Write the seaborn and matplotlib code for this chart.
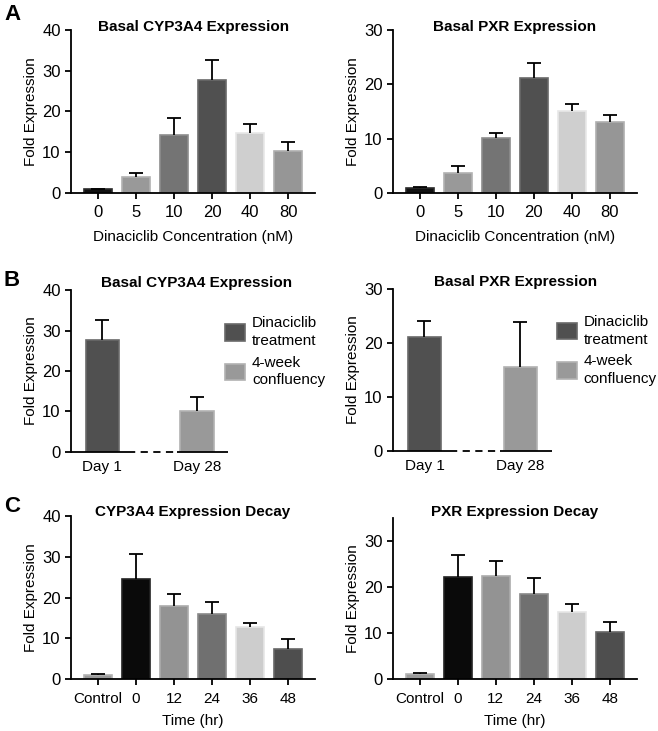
"""
Fold expression bar panels (A, B, C)
"""
import matplotlib
matplotlib.use("Agg")
import matplotlib.pyplot as plt
import matplotlib.patches as mpatches
import seaborn as sns
import pandas as pd

# Panel A - dinaciclib dose response
conc_labels = ["0", "5", "10", "20", "40", "80"]
cyp_dose = [1.0, 4.0, 14.3, 27.7, 14.8, 10.4]
cyp_dose_top = [1.1, 4.9, 18.3, 32.6, 17.0, 12.6]
pxr_dose = [1.0, 3.7, 10.1, 21.1, 15.1, 13.0]
pxr_dose_top = [1.1, 4.9, 11.1, 24.0, 16.4, 14.4]
dose_colors = ["#111111", "#999999", "#747474", "#505050", "#cfcfcf", "#969696"]

# Panel B - day 1 vs day 28
day_labels = ["Day 1", "Day 28"]
cyp_day = [27.7, 10.0]
cyp_day_top = [32.6, 13.5]
pxr_day = [21.1, 15.6]
pxr_day_top = [24.0, 23.9]
day_colors = ["#505050", "#999999"]
legend_labels = ["Dinaciclib\ntreatment", "4-week\nconfluency"]

# Panel C - decay over time
time_labels = ["Control", "0", "12", "24", "36", "48"]
cyp_decay = [1.1, 24.5, 18.0, 16.0, 12.7, 7.4]
cyp_decay_top = [1.3, 30.7, 20.9, 19.0, 13.8, 9.9]
pxr_decay = [1.1, 22.3, 22.5, 18.5, 14.5, 10.2]
pxr_decay_top = [1.4, 26.9, 25.6, 22.0, 16.4, 12.4]
decay_colors = ["#9a9a9a", "#0a0a0a", "#939393", "#707070", "#cdcdcd", "#4e4e4e"]

sns.set_style("ticks")
plt.rcParams["font.family"] = ["Liberation Sans", "DejaVu Sans"]
plt.rcParams["font.size"] = 11
plt.rcParams["text.color"] = "black"
plt.rcParams["axes.labelcolor"] = "black"
plt.rcParams["xtick.color"] = "black"
plt.rcParams["ytick.color"] = "black"
plt.rcParams["axes.edgecolor"] = "black"
plt.rcParams["axes.linewidth"] = 1.3
plt.rcParams["xtick.major.width"] = 1.3
plt.rcParams["ytick.major.width"] = 1.3
plt.rcParams["xtick.major.size"] = 4
plt.rcParams["ytick.major.size"] = 4

fig = plt.figure(figsize=(6.58, 7.31), dpi=100)


def edge_of(c):
    # slightly lighter outline like the original figure
    v = int(c[1:3], 16)
    v = min(255, v + 25)
    return "#%02x%02x%02x" % (v, v, v)


def bar_panel(rect, labels, vals, tops, colors, ymax, yticks, title,
              xlabel=None, width=0.72, xpad=0.71, xticks_marks=True,
              title_x=0.5, xtick_size=12, title_pad=0, xlabelpad=7):
    ax = fig.add_axes(rect)
    df = pd.DataFrame({"cat": labels, "val": vals})
    sns.barplot(data=df, x="cat", y="val", hue="cat", palette=colors,
                legend=False, width=width, ax=ax, saturation=1,
                linewidth=1.2)
    for p, c in zip(ax.patches, colors):
        p.set_edgecolor(edge_of(c))
    xs = list(range(len(vals)))
    up = [t - v for t, v in zip(tops, vals)]
    _, caps, _ = ax.errorbar(xs, vals, yerr=[[0] * len(vals), up], fmt="none",
                             ecolor="black", elinewidth=1.3, capsize=5,
                             capthick=1.3)
    caps[0].set_visible(False)  # upper error only
    ax.set_ylim(0, ymax)
    ax.set_yticks(yticks)
    ax.set_xlim(-xpad, len(vals) - 1 + xpad)
    ax.set_ylabel("Fold Expression", fontsize=11, labelpad=3)
    ax.set_xlabel(xlabel if xlabel else "", fontsize=11, labelpad=xlabelpad)
    ax.set_title(title, fontsize=11, fontweight="bold", pad=title_pad,
                 x=title_x, y=1.0)
    ax.tick_params(axis="y", labelsize=12)
    ax.tick_params(axis="x", labelsize=xtick_size, pad=5)
    if not xticks_marks:
        ax.tick_params(axis="x", length=0, pad=6)
    sns.despine(ax=ax)
    return ax


# Row A
bar_panel([0.108, 0.736, 0.371, 0.223], conc_labels, cyp_dose, cyp_dose_top,
          dose_colors, 40, [0, 10, 20, 30, 40], "Basal CYP3A4 Expression",
          "Dinaciclib Concentration (nM)", title_pad=-1)
bar_panel([0.597, 0.736, 0.371, 0.223], conc_labels, pxr_dose, pxr_dose_top,
          dose_colors, 30, [0, 10, 20, 30], "Basal PXR Expression",
          "Dinaciclib Concentration (nM)", title_pad=-1)

# Row B
for rect, vals, tops, ymax, yt, title, tx, lx in [
        ([0.108, 0.382, 0.239, 0.221], cyp_day, cyp_day_top, 40,
         [0, 10, 20, 30, 40], "Basal CYP3A4 Expression", 0.80, 0.98),
        ([0.597, 0.383, 0.242, 0.222], pxr_day, pxr_day_top, 30,
         [0, 10, 20, 30], "Basal PXR Expression", 0.77, 1.03)]:
    ax = bar_panel(rect, day_labels, vals, tops, day_colors, ymax, yt, title,
                   width=0.35, xpad=0.33, xticks_marks=False, title_x=tx,
                   xtick_size=11, title_pad=2)
    # broken baseline: solid - dashed - solid
    ax.spines["bottom"].set_visible(False)
    tr = ax.get_xaxis_transform()
    ax.plot([-0.33, 0.27], [0, 0], color="black", lw=1.3, transform=tr,
            clip_on=False, solid_capstyle="butt")
    ax.plot([0.27, 0.79], [0, 0], color="black", lw=1.3, ls=(0, (4, 3)),
            transform=tr, clip_on=False)
    ax.plot([0.79, 1.33], [0, 0], color="black", lw=1.3, transform=tr,
            clip_on=False, solid_capstyle="butt")
    handles = [mpatches.Patch(facecolor=c, edgecolor=edge_of(c), lw=1.2, label=l)
               for c, l in zip(day_colors, legend_labels)]
    leg = ax.legend(handles=handles, loc="upper left", bbox_to_anchor=(lx, 0.84),
                    frameon=False, fontsize=11, handlelength=1.3,
                    handleheight=1.3, handletextpad=0.45, labelspacing=0.5,
                    borderpad=0, borderaxespad=0)
    for t in leg.get_texts():
        t.set_linespacing(1.35)

# Row C
bar_panel([0.108, 0.071, 0.371, 0.223], time_labels, cyp_decay, cyp_decay_top,
          decay_colors, 40, [0, 10, 20, 30, 40], "CYP3A4 Expression Decay",
          "Time (hr)", xtick_size=11, title_pad=0, xlabelpad=6)
bar_panel([0.597, 0.071, 0.371, 0.220], time_labels, pxr_decay, pxr_decay_top,
          decay_colors, 35, [0, 10, 20, 30], "PXR Expression Decay",
          "Time (hr)", xtick_size=11, title_pad=2, xlabelpad=6)

# Panel letters
for letter, y in [("A", 0.995), ("B", 0.630), ("C", 0.322)]:
    fig.text(0.006, y, letter, fontsize=16, fontweight="bold", va="top")

fig.savefig("out.png", dpi=100)
